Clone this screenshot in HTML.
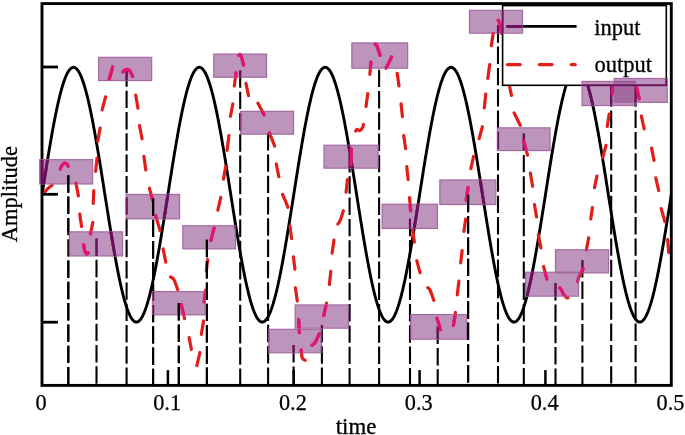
<!DOCTYPE html>
<html><head><meta charset="utf-8"><style>
html,body{margin:0;padding:0;background:#fff;}
body{width:685px;height:435px;overflow:hidden;font-family:"Liberation Serif",serif;}
svg{display:block;will-change:transform;}
</style></head><body>
<svg width="685" height="435" viewBox="0 0 685 435">
<defs>
<clipPath id="plot"><rect x="42" y="3.6" width="629.3" height="381.8"/></clipPath>
<clipPath id="boxes"><rect x="39.65" y="159.65" width="53.00" height="24.30" /><rect x="69.45" y="231.85" width="53.10" height="24.10" /><rect x="98.65" y="57.35" width="53.00" height="23.20" /><rect x="126.25" y="194.45" width="53.30" height="24.40" /><rect x="152.45" y="291.55" width="52.60" height="23.30" /><rect x="182.85" y="225.75" width="52.70" height="23.10" /><rect x="213.75" y="54.05" width="52.80" height="23.20" /><rect x="240.55" y="111.35" width="53.00" height="22.80" /><rect x="268.75" y="329.35" width="52.80" height="23.40" /><rect x="295.15" y="304.95" width="53.40" height="23.20" /><rect x="323.95" y="145.25" width="54.20" height="22.90" /><rect x="351.85" y="42.95" width="55.80" height="25.20" /><rect x="382.15" y="204.25" width="55.30" height="24.20" /><rect x="410.65" y="314.55" width="56.00" height="24.60" /><rect x="439.85" y="179.95" width="56.00" height="24.60" /><rect x="469.45" y="10.35" width="53.10" height="22.80" /><rect x="497.45" y="127.85" width="52.60" height="22.70" /><rect x="525.65" y="272.25" width="52.90" height="23.90" /><rect x="555.45" y="249.75" width="53.10" height="23.10" /><rect x="582.05" y="81.45" width="53.20" height="24.10" /><rect x="614.25" y="78.45" width="53.00" height="23.90" /></clipPath>
<clipPath id="nolegend"><path d="M0,0 H685 V435 H0 Z M502.6,5.6 V85.3 H666.3 V5.6 Z" clip-rule="evenodd"/></clipPath>
<clipPath id="vb0"><rect x="65.3" y="0.00" width="6" height="231.40"/><rect x="65.3" y="256.40" width="6" height="178.60"/></clipPath>
<clipPath id="vb3"><rect x="150.1" y="0.00" width="6" height="291.10"/><rect x="150.1" y="315.30" width="6" height="119.70"/></clipPath>
<clipPath id="vb4"><rect x="175.8" y="0.00" width="6" height="194.00"/><rect x="175.8" y="219.30" width="6" height="215.70"/></clipPath>
<clipPath id="vb5"><rect x="203.9" y="0.00" width="6" height="435.00"/></clipPath>
<clipPath id="vb14"><rect x="465.1" y="0.00" width="6" height="9.90"/><rect x="465.1" y="33.60" width="6" height="401.40"/></clipPath>
</defs>
<rect width="685" height="435" fill="#fff"/>
<g clip-path="url(#plot)"><g clip-path="url(#nolegend)">
<path d="M42.00,194.70 L42.90,188.98 L43.80,183.28 L44.70,177.60 L45.60,171.95 L46.49,166.35 L47.39,160.81 L48.29,155.33 L49.19,149.93 L50.09,144.63 L50.99,139.42 L51.89,134.33 L52.79,129.36 L53.69,124.52 L54.59,119.82 L55.48,115.27 L56.38,110.88 L57.28,106.66 L58.18,102.62 L59.08,98.76 L59.98,95.09 L60.88,91.63 L61.78,88.38 L62.68,85.33 L63.58,82.51 L64.47,79.92 L65.37,77.55 L66.27,75.42 L67.17,73.54 L68.07,71.89 L68.97,70.49 L69.87,69.35 L70.77,68.45 L71.67,67.81 L72.57,67.43 L73.47,67.30 L74.36,67.43 L75.26,67.81 L76.16,68.45 L77.06,69.35 L77.96,70.49 L78.86,71.89 L79.76,73.54 L80.66,75.42 L81.56,77.55 L82.45,79.92 L83.35,82.51 L84.25,85.33 L85.15,88.38 L86.05,91.63 L86.95,95.09 L87.85,98.76 L88.75,102.62 L89.65,106.66 L90.55,110.88 L91.44,115.27 L92.34,119.82 L93.24,124.52 L94.14,129.36 L95.04,134.33 L95.94,139.42 L96.84,144.63 L97.74,149.93 L98.64,155.33 L99.54,160.81 L100.44,166.35 L101.33,171.95 L102.23,177.60 L103.13,183.28 L104.03,188.98 L104.93,194.70 L105.83,200.42 L106.73,206.12 L107.63,211.80 L108.53,217.45 L109.42,223.05 L110.32,228.59 L111.22,234.07 L112.12,239.47 L113.02,244.77 L113.92,249.98 L114.82,255.07 L115.72,260.04 L116.62,264.88 L117.52,269.58 L118.41,274.13 L119.31,278.52 L120.21,282.74 L121.11,286.78 L122.01,290.64 L122.91,294.31 L123.81,297.77 L124.71,301.02 L125.61,304.07 L126.51,306.89 L127.40,309.48 L128.30,311.85 L129.20,313.98 L130.10,315.86 L131.00,317.51 L131.90,318.91 L132.80,320.05 L133.70,320.95 L134.60,321.59 L135.50,321.97 L136.39,322.10 L137.29,321.97 L138.19,321.59 L139.09,320.95 L139.99,320.05 L140.89,318.91 L141.79,317.51 L142.69,315.86 L143.59,313.98 L144.49,311.85 L145.38,309.48 L146.28,306.89 L147.18,304.07 L148.08,301.02 L148.98,297.77 L149.88,294.31 L150.78,290.64 L151.68,286.78 L152.58,282.74 L153.48,278.52 L154.38,274.13 L155.27,269.58 L156.17,264.88 L157.07,260.04 L157.97,255.07 L158.87,249.98 L159.77,244.77 L160.67,239.47 L161.57,234.07 L162.47,228.59 L163.37,223.05 L164.26,217.45 L165.16,211.80 L166.06,206.12 L166.96,200.42 L167.86,194.70 L168.76,188.98 L169.66,183.28 L170.56,177.60 L171.46,171.95 L172.35,166.35 L173.25,160.81 L174.15,155.33 L175.05,149.93 L175.95,144.63 L176.85,139.42 L177.75,134.33 L178.65,129.36 L179.55,124.52 L180.45,119.82 L181.34,115.27 L182.24,110.88 L183.14,106.66 L184.04,102.62 L184.94,98.76 L185.84,95.09 L186.74,91.63 L187.64,88.38 L188.54,85.33 L189.44,82.51 L190.33,79.92 L191.23,77.55 L192.13,75.42 L193.03,73.54 L193.93,71.89 L194.83,70.49 L195.73,69.35 L196.63,68.45 L197.53,67.81 L198.43,67.43 L199.32,67.30 L200.22,67.43 L201.12,67.81 L202.02,68.45 L202.92,69.35 L203.82,70.49 L204.72,71.89 L205.62,73.54 L206.52,75.42 L207.42,77.55 L208.31,79.92 L209.21,82.51 L210.11,85.33 L211.01,88.38 L211.91,91.63 L212.81,95.09 L213.71,98.76 L214.61,102.62 L215.51,106.66 L216.41,110.88 L217.30,115.27 L218.20,119.82 L219.10,124.52 L220.00,129.36 L220.90,134.33 L221.80,139.42 L222.70,144.63 L223.60,149.93 L224.50,155.33 L225.40,160.81 L226.29,166.35 L227.19,171.95 L228.09,177.60 L228.99,183.28 L229.89,188.98 L230.79,194.70 L231.69,200.42 L232.59,206.12 L233.49,211.80 L234.39,217.45 L235.28,223.05 L236.18,228.59 L237.08,234.07 L237.98,239.47 L238.88,244.77 L239.78,249.98 L240.68,255.07 L241.58,260.04 L242.48,264.88 L243.38,269.58 L244.28,274.13 L245.17,278.52 L246.07,282.74 L246.97,286.78 L247.87,290.64 L248.77,294.31 L249.67,297.77 L250.57,301.02 L251.47,304.07 L252.37,306.89 L253.26,309.48 L254.16,311.85 L255.06,313.98 L255.96,315.86 L256.86,317.51 L257.76,318.91 L258.66,320.05 L259.56,320.95 L260.46,321.59 L261.36,321.97 L262.25,322.10 L263.15,321.97 L264.05,321.59 L264.95,320.95 L265.85,320.05 L266.75,318.91 L267.65,317.51 L268.55,315.86 L269.45,313.98 L270.35,311.85 L271.25,309.48 L272.14,306.89 L273.04,304.07 L273.94,301.02 L274.84,297.77 L275.74,294.31 L276.64,290.64 L277.54,286.78 L278.44,282.74 L279.34,278.52 L280.24,274.13 L281.13,269.58 L282.03,264.88 L282.93,260.04 L283.83,255.07 L284.73,249.98 L285.63,244.77 L286.53,239.47 L287.43,234.07 L288.33,228.59 L289.23,223.05 L290.12,217.45 L291.02,211.80 L291.92,206.12 L292.82,200.42 L293.72,194.70 L294.62,188.98 L295.52,183.28 L296.42,177.60 L297.32,171.95 L298.21,166.35 L299.11,160.81 L300.01,155.33 L300.91,149.93 L301.81,144.63 L302.71,139.42 L303.61,134.33 L304.51,129.36 L305.41,124.52 L306.31,119.82 L307.20,115.27 L308.10,110.88 L309.00,106.66 L309.90,102.62 L310.80,98.76 L311.70,95.09 L312.60,91.63 L313.50,88.38 L314.40,85.33 L315.30,82.51 L316.19,79.92 L317.09,77.55 L317.99,75.42 L318.89,73.54 L319.79,71.89 L320.69,70.49 L321.59,69.35 L322.49,68.45 L323.39,67.81 L324.29,67.43 L325.19,67.30 L326.08,67.43 L326.98,67.81 L327.88,68.45 L328.78,69.35 L329.68,70.49 L330.58,71.89 L331.48,73.54 L332.38,75.42 L333.28,77.55 L334.17,79.92 L335.07,82.51 L335.97,85.33 L336.87,88.38 L337.77,91.63 L338.67,95.09 L339.57,98.76 L340.47,102.62 L341.37,106.66 L342.27,110.88 L343.16,115.27 L344.06,119.82 L344.96,124.52 L345.86,129.36 L346.76,134.33 L347.66,139.42 L348.56,144.63 L349.46,149.93 L350.36,155.33 L351.26,160.81 L352.15,166.35 L353.05,171.95 L353.95,177.60 L354.85,183.28 L355.75,188.98 L356.65,194.70 L357.55,200.42 L358.45,206.12 L359.35,211.80 L360.25,217.45 L361.14,223.05 L362.04,228.59 L362.94,234.07 L363.84,239.47 L364.74,244.77 L365.64,249.98 L366.54,255.07 L367.44,260.04 L368.34,264.88 L369.24,269.58 L370.13,274.13 L371.03,278.52 L371.93,282.74 L372.83,286.78 L373.73,290.64 L374.63,294.31 L375.53,297.77 L376.43,301.02 L377.33,304.07 L378.23,306.89 L379.12,309.48 L380.02,311.85 L380.92,313.98 L381.82,315.86 L382.72,317.51 L383.62,318.91 L384.52,320.05 L385.42,320.95 L386.32,321.59 L387.22,321.97 L388.11,322.10 L389.01,321.97 L389.91,321.59 L390.81,320.95 L391.71,320.05 L392.61,318.91 L393.51,317.51 L394.41,315.86 L395.31,313.98 L396.21,311.85 L397.10,309.48 L398.00,306.89 L398.90,304.07 L399.80,301.02 L400.70,297.77 L401.60,294.31 L402.50,290.64 L403.40,286.78 L404.30,282.74 L405.20,278.52 L406.09,274.13 L406.99,269.58 L407.89,264.88 L408.79,260.04 L409.69,255.07 L410.59,249.98 L411.49,244.77 L412.39,239.47 L413.29,234.07 L414.19,228.59 L415.08,223.05 L415.98,217.45 L416.88,211.80 L417.78,206.12 L418.68,200.42 L419.58,194.70 L420.48,188.98 L421.38,183.28 L422.28,177.60 L423.18,171.95 L424.07,166.35 L424.97,160.81 L425.87,155.33 L426.77,149.93 L427.67,144.63 L428.57,139.42 L429.47,134.33 L430.37,129.36 L431.27,124.52 L432.17,119.82 L433.06,115.27 L433.96,110.88 L434.86,106.66 L435.76,102.62 L436.66,98.76 L437.56,95.09 L438.46,91.63 L439.36,88.38 L440.26,85.33 L441.16,82.51 L442.06,79.92 L442.95,77.55 L443.85,75.42 L444.75,73.54 L445.65,71.89 L446.55,70.49 L447.45,69.35 L448.35,68.45 L449.25,67.81 L450.15,67.43 L451.05,67.30 L451.94,67.43 L452.84,67.81 L453.74,68.45 L454.64,69.35 L455.54,70.49 L456.44,71.89 L457.34,73.54 L458.24,75.42 L459.14,77.55 L460.04,79.92 L460.93,82.51 L461.83,85.33 L462.73,88.38 L463.63,91.63 L464.53,95.09 L465.43,98.76 L466.33,102.62 L467.23,106.66 L468.13,110.88 L469.02,115.27 L469.92,119.82 L470.82,124.52 L471.72,129.36 L472.62,134.33 L473.52,139.42 L474.42,144.63 L475.32,149.93 L476.22,155.33 L477.12,160.81 L478.01,166.35 L478.91,171.95 L479.81,177.60 L480.71,183.28 L481.61,188.98 L482.51,194.70 L483.41,200.42 L484.31,206.12 L485.21,211.80 L486.11,217.45 L487.00,223.05 L487.90,228.59 L488.80,234.07 L489.70,239.47 L490.60,244.77 L491.50,249.98 L492.40,255.07 L493.30,260.04 L494.20,264.88 L495.10,269.58 L496.00,274.13 L496.89,278.52 L497.79,282.74 L498.69,286.78 L499.59,290.64 L500.49,294.31 L501.39,297.77 L502.29,301.02 L503.19,304.07 L504.09,306.89 L504.99,309.48 L505.88,311.85 L506.78,313.98 L507.68,315.86 L508.58,317.51 L509.48,318.91 L510.38,320.05 L511.28,320.95 L512.18,321.59 L513.08,321.97 L513.98,322.10 L514.87,321.97 L515.77,321.59 L516.67,320.95 L517.57,320.05 L518.47,318.91 L519.37,317.51 L520.27,315.86 L521.17,313.98 L522.07,311.85 L522.96,309.48 L523.86,306.89 L524.76,304.07 L525.66,301.02 L526.56,297.77 L527.46,294.31 L528.36,290.64 L529.26,286.78 L530.16,282.74 L531.06,278.52 L531.95,274.13 L532.85,269.58 L533.75,264.88 L534.65,260.04 L535.55,255.07 L536.45,249.98 L537.35,244.77 L538.25,239.47 L539.15,234.07 L540.05,228.59 L540.94,223.05 L541.84,217.45 L542.74,211.80 L543.64,206.12 L544.54,200.42 L545.44,194.70 L546.34,188.98 L547.24,183.28 L548.14,177.60 L549.04,171.95 L549.93,166.35 L550.83,160.81 L551.73,155.33 L552.63,149.93 L553.53,144.63 L554.43,139.42 L555.33,134.33 L556.23,129.36 L557.13,124.52 L558.03,119.82 L558.92,115.27 L559.82,110.88 L560.72,106.66 L561.62,102.62 L562.52,98.76 L563.42,95.09 L564.32,91.63 L565.22,88.38 L566.12,85.33 L567.02,82.51 L567.91,79.92 L568.81,77.55 L569.71,75.42 L570.61,73.54 L571.51,71.89 L572.41,70.49 L573.31,69.35 L574.21,68.45 L575.11,67.81 L576.01,67.43 L576.90,67.30 L577.80,67.43 L578.70,67.81 L579.60,68.45 L580.50,69.35 L581.40,70.49 L582.30,71.89 L583.20,73.54 L584.10,75.42 L585.00,77.55 L585.89,79.92 L586.79,82.51 L587.69,85.33 L588.59,88.38 L589.49,91.63 L590.39,95.09 L591.29,98.76 L592.19,102.62 L593.09,106.66 L593.99,110.88 L594.88,115.27 L595.78,119.82 L596.68,124.52 L597.58,129.36 L598.48,134.33 L599.38,139.42 L600.28,144.63 L601.18,149.93 L602.08,155.33 L602.98,160.81 L603.88,166.35 L604.77,171.95 L605.67,177.60 L606.57,183.28 L607.47,188.98 L608.37,194.70 L609.27,200.42 L610.17,206.12 L611.07,211.80 L611.97,217.45 L612.87,223.05 L613.76,228.59 L614.66,234.07 L615.56,239.47 L616.46,244.77 L617.36,249.98 L618.26,255.07 L619.16,260.04 L620.06,264.88 L620.96,269.58 L621.85,274.13 L622.75,278.52 L623.65,282.74 L624.55,286.78 L625.45,290.64 L626.35,294.31 L627.25,297.77 L628.15,301.02 L629.05,304.07 L629.95,306.89 L630.84,309.48 L631.74,311.85 L632.64,313.98 L633.54,315.86 L634.44,317.51 L635.34,318.91 L636.24,320.05 L637.14,320.95 L638.04,321.59 L638.94,321.97 L639.83,322.10 L640.73,321.97 L641.63,321.59 L642.53,320.95 L643.43,320.05 L644.33,318.91 L645.23,317.51 L646.13,315.86 L647.03,313.98 L647.93,311.85 L648.82,309.48 L649.72,306.89 L650.62,304.07 L651.52,301.02 L652.42,297.77 L653.32,294.31 L654.22,290.64 L655.12,286.78 L656.02,282.74 L656.92,278.52 L657.81,274.13 L658.71,269.58 L659.61,264.88 L660.51,260.04 L661.41,255.07 L662.31,249.98 L663.21,244.77 L664.11,239.47 L665.01,234.07 L665.91,228.59 L666.80,223.05 L667.70,217.45 L668.60,211.80 L669.50,206.12 L670.40,200.42 L671.30,194.70" fill="none" stroke="#000" stroke-width="2.9" stroke-linejoin="round"/>
<line x1="68.3" y1="175.3" x2="68.3" y2="386.4" stroke="#000" stroke-width="2.1" stroke-dasharray="17.4 3.9"/>
<line x1="96.5" y1="238.5" x2="96.5" y2="386.4" stroke="#000" stroke-width="2.1" stroke-dasharray="17.4 3.9"/>
<line x1="126.6" y1="69.4" x2="126.6" y2="386.4" stroke="#000" stroke-width="2.1" stroke-dasharray="17.4 3.9"/>
<line x1="153.1" y1="198.4" x2="153.1" y2="386.4" stroke="#000" stroke-width="2.1" stroke-dasharray="17.4 3.9"/>
<line x1="178.8" y1="303.2" x2="178.8" y2="386.4" stroke="#000" stroke-width="2.1" stroke-dasharray="17.4 3.9"/>
<line x1="206.9" y1="239.8" x2="206.9" y2="386.4" stroke="#000" stroke-width="2.1" stroke-dasharray="17.4 3.9"/>
<line x1="240.2" y1="70.4" x2="240.2" y2="386.4" stroke="#000" stroke-width="2.1" stroke-dasharray="17.4 3.9"/>
<line x1="268.1" y1="133.1" x2="268.1" y2="386.4" stroke="#000" stroke-width="2.1" stroke-dasharray="17.4 3.9"/>
<line x1="293.6" y1="345.1" x2="293.6" y2="386.4" stroke="#000" stroke-width="2.1" stroke-dasharray="17.4 3.9"/>
<line x1="321.9" y1="325.0" x2="321.9" y2="386.4" stroke="#000" stroke-width="2.1" stroke-dasharray="17.4 3.9"/>
<line x1="349.6" y1="155.0" x2="349.6" y2="386.4" stroke="#000" stroke-width="2.1" stroke-dasharray="17.4 3.9"/>
<line x1="379.1" y1="69.7" x2="379.1" y2="386.4" stroke="#000" stroke-width="2.1" stroke-dasharray="17.4 3.9"/>
<line x1="410.0" y1="218.8" x2="410.0" y2="386.4" stroke="#000" stroke-width="2.1" stroke-dasharray="17.4 3.9"/>
<line x1="437.7" y1="326.7" x2="437.7" y2="386.4" stroke="#000" stroke-width="2.1" stroke-dasharray="17.4 3.9"/>
<line x1="468.1" y1="194.8" x2="468.1" y2="386.4" stroke="#000" stroke-width="2.1" stroke-dasharray="17.4 3.9"/>
<line x1="498.0" y1="25.3" x2="498.0" y2="386.4" stroke="#000" stroke-width="2.1" stroke-dasharray="17.4 3.9"/>
<line x1="523.8" y1="133.6" x2="523.8" y2="386.4" stroke="#000" stroke-width="2.1" stroke-dasharray="17.4 3.9"/>
<line x1="555.5" y1="283.2" x2="555.5" y2="386.4" stroke="#000" stroke-width="2.1" stroke-dasharray="17.4 3.9"/>
<line x1="582.4" y1="260.2" x2="582.4" y2="386.4" stroke="#000" stroke-width="2.1" stroke-dasharray="17.4 3.9"/>
<line x1="611.2" y1="89.3" x2="611.2" y2="386.4" stroke="#000" stroke-width="2.1" stroke-dasharray="17.4 3.9"/>
<line x1="635.6" y1="89.3" x2="635.6" y2="386.4" stroke="#000" stroke-width="2.1" stroke-dasharray="17.4 3.9"/>
<line x1="611.2" y1="84.0" x2="611.2" y2="89.8" stroke="#000" stroke-width="2.1"/>
<line x1="635.6" y1="84.0" x2="635.6" y2="89.8" stroke="#000" stroke-width="2.1"/>
</g></g>
<g clip-path="url(#plot)"><g clip-path="url(#nolegend)">
<path d="M44.17,192.58 C44.81,191.87 46.67,189.53 48.00,188.30 C49.33,187.07 51.45,185.73 52.14,185.22" fill="none" stroke="#e21d1a" stroke-width="3.2" stroke-linecap="round" stroke-linejoin="round"/>
<path d="M60.30,168.97 C60.58,168.37 61.30,166.39 62.00,165.40 C62.70,164.41 63.67,163.20 64.50,163.00 C65.33,162.80 66.38,163.67 67.00,164.20 C67.62,164.73 68.03,165.87 68.23,166.20" fill="none" stroke="#e21d1a" stroke-width="3.2" stroke-linecap="round" stroke-linejoin="round"/>
<path d="M76.03,183.29 L78.37,195.91" fill="none" stroke="#e21d1a" stroke-width="3.2" stroke-linecap="round" stroke-linejoin="round"/>
<path d="M79.71,214.19 L81.59,226.51" fill="none" stroke="#e21d1a" stroke-width="3.2" stroke-linecap="round" stroke-linejoin="round"/>
<path d="M83.55,244.88 C83.75,245.87 84.29,249.31 84.80,250.80 C85.31,252.29 86.03,253.47 86.60,253.80 C87.17,254.13 87.94,252.95 88.21,252.78" fill="none" stroke="#e21d1a" stroke-width="3.2" stroke-linecap="round" stroke-linejoin="round"/>
<path d="M90.44,233.81 L92.86,222.29" fill="none" stroke="#e21d1a" stroke-width="3.2" stroke-linecap="round" stroke-linejoin="round"/>
<path d="M93.23,203.30 L93.77,190.70" fill="none" stroke="#e21d1a" stroke-width="3.2" stroke-linecap="round" stroke-linejoin="round"/>
<path d="M95.67,171.30 L97.03,158.20" fill="none" stroke="#e21d1a" stroke-width="3.2" stroke-linecap="round" stroke-linejoin="round"/>
<path d="M97.73,141.21 L100.17,128.09" fill="none" stroke="#e21d1a" stroke-width="3.2" stroke-linecap="round" stroke-linejoin="round"/>
<path d="M102.08,109.92 L105.62,96.78" fill="none" stroke="#e21d1a" stroke-width="3.2" stroke-linecap="round" stroke-linejoin="round"/>
<path d="M109.19,79.33 L112.61,66.97" fill="none" stroke="#e21d1a" stroke-width="3.2" stroke-linecap="round" stroke-linejoin="round"/>
<path d="M122.99,71.81 C123.26,71.54 123.93,70.60 124.60,70.20 C125.27,69.80 126.17,69.33 127.00,69.40 C127.83,69.47 128.65,69.44 129.60,70.60 C130.55,71.76 132.16,75.42 132.67,76.38" fill="none" stroke="#e21d1a" stroke-width="3.2" stroke-linecap="round" stroke-linejoin="round"/>
<path d="M135.72,95.19 L137.98,108.21" fill="none" stroke="#e21d1a" stroke-width="3.2" stroke-linecap="round" stroke-linejoin="round"/>
<path d="M139.53,125.69 L142.07,138.81" fill="none" stroke="#e21d1a" stroke-width="3.2" stroke-linecap="round" stroke-linejoin="round"/>
<path d="M143.90,156.29 L145.80,169.91" fill="none" stroke="#e21d1a" stroke-width="3.2" stroke-linecap="round" stroke-linejoin="round"/>
<path d="M149.38,188.18 L152.62,200.32" fill="none" stroke="#e21d1a" stroke-width="3.2" stroke-linecap="round" stroke-linejoin="round"/>
<path d="M155.70,215.67 L160.10,230.73" fill="none" stroke="#e21d1a" stroke-width="3.2" stroke-linecap="round" stroke-linejoin="round"/>
<path d="M163.14,248.99 L165.76,262.11" fill="none" stroke="#e21d1a" stroke-width="3.2" stroke-linecap="round" stroke-linejoin="round"/>
<path d="M170.54,276.95 C171.12,277.42 172.80,277.68 174.00,279.80 C175.20,281.92 177.13,288.00 177.75,289.65" fill="none" stroke="#e21d1a" stroke-width="3.2" stroke-linecap="round" stroke-linejoin="round"/>
<path d="M181.16,304.48 L184.54,318.62" fill="none" stroke="#e21d1a" stroke-width="3.2" stroke-linecap="round" stroke-linejoin="round"/>
<path d="M189.13,337.59 L191.37,349.41" fill="none" stroke="#e21d1a" stroke-width="3.2" stroke-linecap="round" stroke-linejoin="round"/>
<path d="M196.86,365.52 L199.94,352.48" fill="none" stroke="#e21d1a" stroke-width="3.2" stroke-linecap="round" stroke-linejoin="round"/>
<path d="M201.32,334.31 L203.58,320.99" fill="none" stroke="#e21d1a" stroke-width="3.2" stroke-linecap="round" stroke-linejoin="round"/>
<path d="M204.19,302.01 L205.71,289.99" fill="none" stroke="#e21d1a" stroke-width="3.2" stroke-linecap="round" stroke-linejoin="round"/>
<path d="M206.29,271.01 L207.71,259.49" fill="none" stroke="#e21d1a" stroke-width="3.2" stroke-linecap="round" stroke-linejoin="round"/>
<path d="M210.87,240.42 L214.03,228.08" fill="none" stroke="#e21d1a" stroke-width="3.2" stroke-linecap="round" stroke-linejoin="round"/>
<path d="M217.85,210.22 L220.75,197.38" fill="none" stroke="#e21d1a" stroke-width="3.2" stroke-linecap="round" stroke-linejoin="round"/>
<path d="M223.42,179.11 L225.68,166.49" fill="none" stroke="#e21d1a" stroke-width="3.2" stroke-linecap="round" stroke-linejoin="round"/>
<path d="M227.09,150.31 L228.91,135.49" fill="none" stroke="#e21d1a" stroke-width="3.2" stroke-linecap="round" stroke-linejoin="round"/>
<path d="M230.44,116.31 L232.86,103.99" fill="none" stroke="#e21d1a" stroke-width="3.2" stroke-linecap="round" stroke-linejoin="round"/>
<path d="M234.29,86.01 L236.01,72.89" fill="none" stroke="#e21d1a" stroke-width="3.2" stroke-linecap="round" stroke-linejoin="round"/>
<path d="M238.97,55.48 C239.15,55.26 239.64,53.83 240.10,54.20 C240.56,54.57 241.11,55.88 241.70,57.70 C242.29,59.52 243.30,63.89 243.62,65.12" fill="none" stroke="#e21d1a" stroke-width="3.2" stroke-linecap="round" stroke-linejoin="round"/>
<path d="M245.94,83.38 L248.56,95.72" fill="none" stroke="#e21d1a" stroke-width="3.2" stroke-linecap="round" stroke-linejoin="round"/>
<path d="M257.83,103.12 L264.07,114.78" fill="none" stroke="#e21d1a" stroke-width="3.2" stroke-linecap="round" stroke-linejoin="round"/>
<path d="M269.46,132.95 L274.64,146.15" fill="none" stroke="#e21d1a" stroke-width="3.2" stroke-linecap="round" stroke-linejoin="round"/>
<path d="M276.24,163.89 L278.86,176.71" fill="none" stroke="#e21d1a" stroke-width="3.2" stroke-linecap="round" stroke-linejoin="round"/>
<path d="M282.49,194.44 C282.91,195.36 284.09,197.85 285.00,200.00 C285.91,202.15 287.45,206.13 287.94,207.35" fill="none" stroke="#e21d1a" stroke-width="3.2" stroke-linecap="round" stroke-linejoin="round"/>
<path d="M289.99,226.09 L291.61,238.61" fill="none" stroke="#e21d1a" stroke-width="3.2" stroke-linecap="round" stroke-linejoin="round"/>
<path d="M293.39,256.89 L294.91,269.21" fill="none" stroke="#e21d1a" stroke-width="3.2" stroke-linecap="round" stroke-linejoin="round"/>
<path d="M295.40,287.89 L297.30,301.01" fill="none" stroke="#e21d1a" stroke-width="3.2" stroke-linecap="round" stroke-linejoin="round"/>
<path d="M298.64,319.30 L299.46,332.70" fill="none" stroke="#e21d1a" stroke-width="3.2" stroke-linecap="round" stroke-linejoin="round"/>
<path d="M301.19,349.99 C301.36,351.31 301.54,356.17 302.20,357.90 C302.86,359.63 304.67,359.94 305.16,360.35" fill="none" stroke="#e21d1a" stroke-width="3.2" stroke-linecap="round" stroke-linejoin="round"/>
<path d="M311.89,345.41 C312.50,344.80 314.28,343.73 315.50,341.80 C316.72,339.87 318.59,335.16 319.20,333.83" fill="none" stroke="#e21d1a" stroke-width="3.2" stroke-linecap="round" stroke-linejoin="round"/>
<path d="M323.66,315.52 L326.54,303.18" fill="none" stroke="#e21d1a" stroke-width="3.2" stroke-linecap="round" stroke-linejoin="round"/>
<path d="M329.38,284.50 L330.82,271.40" fill="none" stroke="#e21d1a" stroke-width="3.2" stroke-linecap="round" stroke-linejoin="round"/>
<path d="M332.10,253.11 L334.00,239.99" fill="none" stroke="#e21d1a" stroke-width="3.2" stroke-linecap="round" stroke-linejoin="round"/>
<path d="M337.79,224.02 C338.19,223.41 339.27,222.61 340.20,220.40 C341.13,218.19 342.85,212.37 343.38,210.76" fill="none" stroke="#e21d1a" stroke-width="3.2" stroke-linecap="round" stroke-linejoin="round"/>
<path d="M346.08,192.10 L347.42,179.70" fill="none" stroke="#e21d1a" stroke-width="3.2" stroke-linecap="round" stroke-linejoin="round"/>
<path d="M350.92,164.80 L351.48,149.00" fill="none" stroke="#e21d1a" stroke-width="3.2" stroke-linecap="round" stroke-linejoin="round"/>
<path d="M355.62,131.04 C355.83,130.75 356.22,129.36 356.90,129.30 C357.58,129.24 358.78,130.93 359.70,130.70 C360.62,130.47 361.75,128.94 362.40,127.90 C363.05,126.86 363.38,125.04 363.57,124.46" fill="none" stroke="#e21d1a" stroke-width="3.2" stroke-linecap="round" stroke-linejoin="round"/>
<path d="M366.00,106.51 L367.80,93.49" fill="none" stroke="#e21d1a" stroke-width="3.2" stroke-linecap="round" stroke-linejoin="round"/>
<path d="M369.86,74.30 L370.94,62.10" fill="none" stroke="#e21d1a" stroke-width="3.2" stroke-linecap="round" stroke-linejoin="round"/>
<path d="M374.99,44.11 C375.15,44.09 375.50,43.47 375.90,44.00 C376.30,44.53 376.70,45.39 377.40,47.30 C378.10,49.21 379.63,54.08 380.08,55.44" fill="none" stroke="#e21d1a" stroke-width="3.2" stroke-linecap="round" stroke-linejoin="round"/>
<path d="M386.01,68.37 L391.59,57.03" fill="none" stroke="#e21d1a" stroke-width="3.2" stroke-linecap="round" stroke-linejoin="round"/>
<path d="M397.20,73.29 L399.00,85.91" fill="none" stroke="#e21d1a" stroke-width="3.2" stroke-linecap="round" stroke-linejoin="round"/>
<path d="M401.07,103.80 L402.43,116.70" fill="none" stroke="#e21d1a" stroke-width="3.2" stroke-linecap="round" stroke-linejoin="round"/>
<path d="M403.70,135.49 L405.60,148.61" fill="none" stroke="#e21d1a" stroke-width="3.2" stroke-linecap="round" stroke-linejoin="round"/>
<path d="M406.77,166.60 L408.13,179.70" fill="none" stroke="#e21d1a" stroke-width="3.2" stroke-linecap="round" stroke-linejoin="round"/>
<path d="M409.56,197.50 L410.64,210.80" fill="none" stroke="#e21d1a" stroke-width="3.2" stroke-linecap="round" stroke-linejoin="round"/>
<path d="M412.51,229.69 L414.39,242.11" fill="none" stroke="#e21d1a" stroke-width="3.2" stroke-linecap="round" stroke-linejoin="round"/>
<path d="M416.78,260.68 L420.02,272.62" fill="none" stroke="#e21d1a" stroke-width="3.2" stroke-linecap="round" stroke-linejoin="round"/>
<path d="M427.69,287.69 C428.08,288.08 428.97,287.89 430.00,290.00 C431.03,292.11 433.21,298.62 433.86,300.34" fill="none" stroke="#e21d1a" stroke-width="3.2" stroke-linecap="round" stroke-linejoin="round"/>
<path d="M437.00,318.17 L440.50,329.63" fill="none" stroke="#e21d1a" stroke-width="3.2" stroke-linecap="round" stroke-linejoin="round"/>
<path d="M453.41,325.31 L455.49,312.49" fill="none" stroke="#e21d1a" stroke-width="3.2" stroke-linecap="round" stroke-linejoin="round"/>
<path d="M457.28,294.80 L458.92,281.00" fill="none" stroke="#e21d1a" stroke-width="3.2" stroke-linecap="round" stroke-linejoin="round"/>
<path d="M460.68,262.90 L462.12,250.60" fill="none" stroke="#e21d1a" stroke-width="3.2" stroke-linecap="round" stroke-linejoin="round"/>
<path d="M463.90,231.51 L465.70,219.19" fill="none" stroke="#e21d1a" stroke-width="3.2" stroke-linecap="round" stroke-linejoin="round"/>
<path d="M466.20,200.31 L468.00,187.69" fill="none" stroke="#e21d1a" stroke-width="3.2" stroke-linecap="round" stroke-linejoin="round"/>
<path d="M470.85,168.62 L473.55,156.48" fill="none" stroke="#e21d1a" stroke-width="3.2" stroke-linecap="round" stroke-linejoin="round"/>
<path d="M479.09,138.73 L482.41,126.67" fill="none" stroke="#e21d1a" stroke-width="3.2" stroke-linecap="round" stroke-linejoin="round"/>
<path d="M484.28,107.90 L485.82,94.00" fill="none" stroke="#e21d1a" stroke-width="3.2" stroke-linecap="round" stroke-linejoin="round"/>
<path d="M487.80,78.41 L489.70,64.49" fill="none" stroke="#e21d1a" stroke-width="3.2" stroke-linecap="round" stroke-linejoin="round"/>
<path d="M491.31,45.71 L493.19,33.59" fill="none" stroke="#e21d1a" stroke-width="3.2" stroke-linecap="round" stroke-linejoin="round"/>
<path d="M498.17,20.15 C498.56,21.07 499.96,23.51 500.50,25.70 C501.04,27.89 501.26,32.04 501.42,33.31" fill="none" stroke="#e21d1a" stroke-width="3.2" stroke-linecap="round" stroke-linejoin="round"/>
<path d="M509.74,87.09 L511.46,95.41" fill="none" stroke="#e21d1a" stroke-width="3.2" stroke-linecap="round" stroke-linejoin="round"/>
<path d="M514.01,112.83 L520.29,125.27" fill="none" stroke="#e21d1a" stroke-width="3.2" stroke-linecap="round" stroke-linejoin="round"/>
<path d="M523.78,141.18 L527.52,155.12" fill="none" stroke="#e21d1a" stroke-width="3.2" stroke-linecap="round" stroke-linejoin="round"/>
<path d="M530.41,173.19 L532.59,186.31" fill="none" stroke="#e21d1a" stroke-width="3.2" stroke-linecap="round" stroke-linejoin="round"/>
<path d="M534.42,204.59 L536.58,216.91" fill="none" stroke="#e21d1a" stroke-width="3.2" stroke-linecap="round" stroke-linejoin="round"/>
<path d="M538.34,234.89 L540.96,247.91" fill="none" stroke="#e21d1a" stroke-width="3.2" stroke-linecap="round" stroke-linejoin="round"/>
<path d="M543.58,266.48 L546.82,278.92" fill="none" stroke="#e21d1a" stroke-width="3.2" stroke-linecap="round" stroke-linejoin="round"/>
<path d="M559.83,287.85 C560.09,288.20 560.79,288.86 561.40,289.90 C562.01,290.94 562.63,292.80 563.50,294.10 C564.37,295.40 565.85,297.10 566.60,297.70 C567.35,298.30 567.77,297.70 568.00,297.70" fill="none" stroke="#e21d1a" stroke-width="3.2" stroke-linecap="round" stroke-linejoin="round"/>
<path d="M577.69,281.53 C577.91,280.77 578.08,279.15 579.00,277.00 C579.92,274.85 582.49,270.02 583.19,268.63" fill="none" stroke="#e21d1a" stroke-width="3.2" stroke-linecap="round" stroke-linejoin="round"/>
<path d="M586.43,249.61 L588.67,237.89" fill="none" stroke="#e21d1a" stroke-width="3.2" stroke-linecap="round" stroke-linejoin="round"/>
<path d="M590.80,219.01 L592.40,207.49" fill="none" stroke="#e21d1a" stroke-width="3.2" stroke-linecap="round" stroke-linejoin="round"/>
<path d="M594.45,187.72 L596.95,176.18" fill="none" stroke="#e21d1a" stroke-width="3.2" stroke-linecap="round" stroke-linejoin="round"/>
<path d="M602.68,157.82 L606.02,145.38" fill="none" stroke="#e21d1a" stroke-width="3.2" stroke-linecap="round" stroke-linejoin="round"/>
<path d="M607.21,126.51 L609.19,114.09" fill="none" stroke="#e21d1a" stroke-width="3.2" stroke-linecap="round" stroke-linejoin="round"/>
<path d="M612.25,93.80 L612.75,86.70" fill="none" stroke="#e21d1a" stroke-width="3.2" stroke-linecap="round" stroke-linejoin="round"/>
<path d="M636.46,86.68 L639.34,98.92" fill="none" stroke="#e21d1a" stroke-width="3.2" stroke-linecap="round" stroke-linejoin="round"/>
<path d="M641.35,115.98 L644.15,128.82" fill="none" stroke="#e21d1a" stroke-width="3.2" stroke-linecap="round" stroke-linejoin="round"/>
<path d="M651.54,148.09 L654.06,160.41" fill="none" stroke="#e21d1a" stroke-width="3.2" stroke-linecap="round" stroke-linejoin="round"/>
<path d="M655.76,177.88 L658.74,190.72" fill="none" stroke="#e21d1a" stroke-width="3.2" stroke-linecap="round" stroke-linejoin="round"/>
<path d="M661.19,208.57 L664.91,221.73" fill="none" stroke="#e21d1a" stroke-width="3.2" stroke-linecap="round" stroke-linejoin="round"/>
<path d="M667.66,239.60 L668.74,252.60" fill="none" stroke="#e21d1a" stroke-width="3.2" stroke-linecap="round" stroke-linejoin="round"/>
</g></g>
<g stroke="#000" fill="none">
<rect x="42.0" y="3.6" width="629.3" height="381.8" stroke-width="2.9"/>
<line x1="42.0" y1="67.0" x2="58.0" y2="67.0" stroke-width="2.8"/>
<line x1="42.0" y1="194.3" x2="58.0" y2="194.3" stroke-width="2.8"/>
<line x1="42.0" y1="322.2" x2="58.0" y2="322.2" stroke-width="2.8"/>
<line x1="167.9" y1="385.4" x2="167.9" y2="370.09999999999997" stroke-width="2.5"/>
<line x1="293.7" y1="385.4" x2="293.7" y2="370.09999999999997" stroke-width="2.5"/>
<line x1="419.6" y1="385.4" x2="419.6" y2="370.09999999999997" stroke-width="2.5"/>
<line x1="545.4" y1="385.4" x2="545.4" y2="370.09999999999997" stroke-width="2.5"/>
</g>
<rect x="502.6" y="5.6" width="163.7" height="79.7" fill="#fff" stroke="#000" stroke-width="1.6"/>
<line x1="506.4" y1="26.4" x2="576.6" y2="26.4" stroke="#000" stroke-width="2.9"/>
<line x1="507.5" y1="64.7" x2="575.2" y2="64.7" stroke="#e21d1a" stroke-width="3.3" stroke-linecap="round" stroke-dasharray="12.6 19.3"/>
<text x="594.3" y="35" font-family="Liberation Serif" font-size="22.5" fill="#000" stroke="#000" stroke-width="0.3">input</text>
<text x="594.6" y="72" font-family="Liberation Serif" font-size="22.5" fill="#000" stroke="#000" stroke-width="0.3">output</text>
<rect x="39.65" y="159.65" width="53.00" height="24.30" fill="#914d8e" fill-opacity="0.6"/>
<rect x="39.65" y="159.65" width="53.00" height="24.30" fill="none" stroke="#a46aa0" stroke-width="1.2"/>
<rect x="69.45" y="231.85" width="53.10" height="24.10" fill="#914d8e" fill-opacity="0.6"/>
<rect x="69.45" y="231.85" width="53.10" height="24.10" fill="none" stroke="#a46aa0" stroke-width="1.2"/>
<rect x="98.65" y="57.35" width="53.00" height="23.20" fill="#914d8e" fill-opacity="0.6"/>
<rect x="98.65" y="57.35" width="53.00" height="23.20" fill="none" stroke="#a46aa0" stroke-width="1.2"/>
<rect x="126.25" y="194.45" width="53.30" height="24.40" fill="#914d8e" fill-opacity="0.6"/>
<rect x="126.25" y="194.45" width="53.30" height="24.40" fill="none" stroke="#a46aa0" stroke-width="1.2"/>
<rect x="152.45" y="291.55" width="52.60" height="23.30" fill="#914d8e" fill-opacity="0.6"/>
<rect x="152.45" y="291.55" width="52.60" height="23.30" fill="none" stroke="#a46aa0" stroke-width="1.2"/>
<rect x="182.85" y="225.75" width="52.70" height="23.10" fill="#914d8e" fill-opacity="0.6"/>
<rect x="182.85" y="225.75" width="52.70" height="23.10" fill="none" stroke="#a46aa0" stroke-width="1.2"/>
<rect x="213.75" y="54.05" width="52.80" height="23.20" fill="#914d8e" fill-opacity="0.6"/>
<rect x="213.75" y="54.05" width="52.80" height="23.20" fill="none" stroke="#a46aa0" stroke-width="1.2"/>
<rect x="240.55" y="111.35" width="53.00" height="22.80" fill="#914d8e" fill-opacity="0.6"/>
<rect x="240.55" y="111.35" width="53.00" height="22.80" fill="none" stroke="#a46aa0" stroke-width="1.2"/>
<rect x="268.75" y="329.35" width="52.80" height="23.40" fill="#914d8e" fill-opacity="0.6"/>
<rect x="268.75" y="329.35" width="52.80" height="23.40" fill="none" stroke="#a46aa0" stroke-width="1.2"/>
<rect x="295.15" y="304.95" width="53.40" height="23.20" fill="#914d8e" fill-opacity="0.6"/>
<rect x="295.15" y="304.95" width="53.40" height="23.20" fill="none" stroke="#a46aa0" stroke-width="1.2"/>
<rect x="323.95" y="145.25" width="54.20" height="22.90" fill="#914d8e" fill-opacity="0.6"/>
<rect x="323.95" y="145.25" width="54.20" height="22.90" fill="none" stroke="#a46aa0" stroke-width="1.2"/>
<rect x="351.85" y="42.95" width="55.80" height="25.20" fill="#914d8e" fill-opacity="0.6"/>
<rect x="351.85" y="42.95" width="55.80" height="25.20" fill="none" stroke="#a46aa0" stroke-width="1.2"/>
<rect x="382.15" y="204.25" width="55.30" height="24.20" fill="#914d8e" fill-opacity="0.6"/>
<rect x="382.15" y="204.25" width="55.30" height="24.20" fill="none" stroke="#a46aa0" stroke-width="1.2"/>
<rect x="410.65" y="314.55" width="56.00" height="24.60" fill="#914d8e" fill-opacity="0.6"/>
<rect x="410.65" y="314.55" width="56.00" height="24.60" fill="none" stroke="#a46aa0" stroke-width="1.2"/>
<rect x="439.85" y="179.95" width="56.00" height="24.60" fill="#914d8e" fill-opacity="0.6"/>
<rect x="439.85" y="179.95" width="56.00" height="24.60" fill="none" stroke="#a46aa0" stroke-width="1.2"/>
<rect x="469.45" y="10.35" width="53.10" height="22.80" fill="#914d8e" fill-opacity="0.6"/>
<rect x="469.45" y="10.35" width="53.10" height="22.80" fill="none" stroke="#a46aa0" stroke-width="1.2"/>
<rect x="497.45" y="127.85" width="52.60" height="22.70" fill="#914d8e" fill-opacity="0.6"/>
<rect x="497.45" y="127.85" width="52.60" height="22.70" fill="none" stroke="#a46aa0" stroke-width="1.2"/>
<rect x="525.65" y="272.25" width="52.90" height="23.90" fill="#914d8e" fill-opacity="0.6"/>
<rect x="525.65" y="272.25" width="52.90" height="23.90" fill="none" stroke="#a46aa0" stroke-width="1.2"/>
<rect x="555.45" y="249.75" width="53.10" height="23.10" fill="#914d8e" fill-opacity="0.6"/>
<rect x="555.45" y="249.75" width="53.10" height="23.10" fill="none" stroke="#a46aa0" stroke-width="1.2"/>
<rect x="582.05" y="81.45" width="53.20" height="24.10" fill="#914d8e" fill-opacity="0.6"/>
<rect x="582.05" y="81.45" width="53.20" height="24.10" fill="none" stroke="#a46aa0" stroke-width="1.2"/>
<rect x="614.25" y="78.45" width="53.00" height="23.90" fill="#914d8e" fill-opacity="0.6"/>
<rect x="614.25" y="78.45" width="53.00" height="23.90" fill="none" stroke="#a46aa0" stroke-width="1.2"/>
<g clip-path="url(#boxes)">
<g clip-path="url(#plot)"><g clip-path="url(#nolegend)">
<path d="M42.00,194.70 L42.90,188.98 L43.80,183.28 L44.70,177.60 L45.60,171.95 L46.49,166.35 L47.39,160.81 L48.29,155.33 L49.19,149.93 L50.09,144.63 L50.99,139.42 L51.89,134.33 L52.79,129.36 L53.69,124.52 L54.59,119.82 L55.48,115.27 L56.38,110.88 L57.28,106.66 L58.18,102.62 L59.08,98.76 L59.98,95.09 L60.88,91.63 L61.78,88.38 L62.68,85.33 L63.58,82.51 L64.47,79.92 L65.37,77.55 L66.27,75.42 L67.17,73.54 L68.07,71.89 L68.97,70.49 L69.87,69.35 L70.77,68.45 L71.67,67.81 L72.57,67.43 L73.47,67.30 L74.36,67.43 L75.26,67.81 L76.16,68.45 L77.06,69.35 L77.96,70.49 L78.86,71.89 L79.76,73.54 L80.66,75.42 L81.56,77.55 L82.45,79.92 L83.35,82.51 L84.25,85.33 L85.15,88.38 L86.05,91.63 L86.95,95.09 L87.85,98.76 L88.75,102.62 L89.65,106.66 L90.55,110.88 L91.44,115.27 L92.34,119.82 L93.24,124.52 L94.14,129.36 L95.04,134.33 L95.94,139.42 L96.84,144.63 L97.74,149.93 L98.64,155.33 L99.54,160.81 L100.44,166.35 L101.33,171.95 L102.23,177.60 L103.13,183.28 L104.03,188.98 L104.93,194.70 L105.83,200.42 L106.73,206.12 L107.63,211.80 L108.53,217.45 L109.42,223.05 L110.32,228.59 L111.22,234.07 L112.12,239.47 L113.02,244.77 L113.92,249.98 L114.82,255.07 L115.72,260.04 L116.62,264.88 L117.52,269.58 L118.41,274.13 L119.31,278.52 L120.21,282.74 L121.11,286.78 L122.01,290.64 L122.91,294.31 L123.81,297.77 L124.71,301.02 L125.61,304.07 L126.51,306.89 L127.40,309.48 L128.30,311.85 L129.20,313.98 L130.10,315.86 L131.00,317.51 L131.90,318.91 L132.80,320.05 L133.70,320.95 L134.60,321.59 L135.50,321.97 L136.39,322.10 L137.29,321.97 L138.19,321.59 L139.09,320.95 L139.99,320.05 L140.89,318.91 L141.79,317.51 L142.69,315.86 L143.59,313.98 L144.49,311.85 L145.38,309.48 L146.28,306.89 L147.18,304.07 L148.08,301.02 L148.98,297.77 L149.88,294.31 L150.78,290.64 L151.68,286.78 L152.58,282.74 L153.48,278.52 L154.38,274.13 L155.27,269.58 L156.17,264.88 L157.07,260.04 L157.97,255.07 L158.87,249.98 L159.77,244.77 L160.67,239.47 L161.57,234.07 L162.47,228.59 L163.37,223.05 L164.26,217.45 L165.16,211.80 L166.06,206.12 L166.96,200.42 L167.86,194.70 L168.76,188.98 L169.66,183.28 L170.56,177.60 L171.46,171.95 L172.35,166.35 L173.25,160.81 L174.15,155.33 L175.05,149.93 L175.95,144.63 L176.85,139.42 L177.75,134.33 L178.65,129.36 L179.55,124.52 L180.45,119.82 L181.34,115.27 L182.24,110.88 L183.14,106.66 L184.04,102.62 L184.94,98.76 L185.84,95.09 L186.74,91.63 L187.64,88.38 L188.54,85.33 L189.44,82.51 L190.33,79.92 L191.23,77.55 L192.13,75.42 L193.03,73.54 L193.93,71.89 L194.83,70.49 L195.73,69.35 L196.63,68.45 L197.53,67.81 L198.43,67.43 L199.32,67.30 L200.22,67.43 L201.12,67.81 L202.02,68.45 L202.92,69.35 L203.82,70.49 L204.72,71.89 L205.62,73.54 L206.52,75.42 L207.42,77.55 L208.31,79.92 L209.21,82.51 L210.11,85.33 L211.01,88.38 L211.91,91.63 L212.81,95.09 L213.71,98.76 L214.61,102.62 L215.51,106.66 L216.41,110.88 L217.30,115.27 L218.20,119.82 L219.10,124.52 L220.00,129.36 L220.90,134.33 L221.80,139.42 L222.70,144.63 L223.60,149.93 L224.50,155.33 L225.40,160.81 L226.29,166.35 L227.19,171.95 L228.09,177.60 L228.99,183.28 L229.89,188.98 L230.79,194.70 L231.69,200.42 L232.59,206.12 L233.49,211.80 L234.39,217.45 L235.28,223.05 L236.18,228.59 L237.08,234.07 L237.98,239.47 L238.88,244.77 L239.78,249.98 L240.68,255.07 L241.58,260.04 L242.48,264.88 L243.38,269.58 L244.28,274.13 L245.17,278.52 L246.07,282.74 L246.97,286.78 L247.87,290.64 L248.77,294.31 L249.67,297.77 L250.57,301.02 L251.47,304.07 L252.37,306.89 L253.26,309.48 L254.16,311.85 L255.06,313.98 L255.96,315.86 L256.86,317.51 L257.76,318.91 L258.66,320.05 L259.56,320.95 L260.46,321.59 L261.36,321.97 L262.25,322.10 L263.15,321.97 L264.05,321.59 L264.95,320.95 L265.85,320.05 L266.75,318.91 L267.65,317.51 L268.55,315.86 L269.45,313.98 L270.35,311.85 L271.25,309.48 L272.14,306.89 L273.04,304.07 L273.94,301.02 L274.84,297.77 L275.74,294.31 L276.64,290.64 L277.54,286.78 L278.44,282.74 L279.34,278.52 L280.24,274.13 L281.13,269.58 L282.03,264.88 L282.93,260.04 L283.83,255.07 L284.73,249.98 L285.63,244.77 L286.53,239.47 L287.43,234.07 L288.33,228.59 L289.23,223.05 L290.12,217.45 L291.02,211.80 L291.92,206.12 L292.82,200.42 L293.72,194.70 L294.62,188.98 L295.52,183.28 L296.42,177.60 L297.32,171.95 L298.21,166.35 L299.11,160.81 L300.01,155.33 L300.91,149.93 L301.81,144.63 L302.71,139.42 L303.61,134.33 L304.51,129.36 L305.41,124.52 L306.31,119.82 L307.20,115.27 L308.10,110.88 L309.00,106.66 L309.90,102.62 L310.80,98.76 L311.70,95.09 L312.60,91.63 L313.50,88.38 L314.40,85.33 L315.30,82.51 L316.19,79.92 L317.09,77.55 L317.99,75.42 L318.89,73.54 L319.79,71.89 L320.69,70.49 L321.59,69.35 L322.49,68.45 L323.39,67.81 L324.29,67.43 L325.19,67.30 L326.08,67.43 L326.98,67.81 L327.88,68.45 L328.78,69.35 L329.68,70.49 L330.58,71.89 L331.48,73.54 L332.38,75.42 L333.28,77.55 L334.17,79.92 L335.07,82.51 L335.97,85.33 L336.87,88.38 L337.77,91.63 L338.67,95.09 L339.57,98.76 L340.47,102.62 L341.37,106.66 L342.27,110.88 L343.16,115.27 L344.06,119.82 L344.96,124.52 L345.86,129.36 L346.76,134.33 L347.66,139.42 L348.56,144.63 L349.46,149.93 L350.36,155.33 L351.26,160.81 L352.15,166.35 L353.05,171.95 L353.95,177.60 L354.85,183.28 L355.75,188.98 L356.65,194.70 L357.55,200.42 L358.45,206.12 L359.35,211.80 L360.25,217.45 L361.14,223.05 L362.04,228.59 L362.94,234.07 L363.84,239.47 L364.74,244.77 L365.64,249.98 L366.54,255.07 L367.44,260.04 L368.34,264.88 L369.24,269.58 L370.13,274.13 L371.03,278.52 L371.93,282.74 L372.83,286.78 L373.73,290.64 L374.63,294.31 L375.53,297.77 L376.43,301.02 L377.33,304.07 L378.23,306.89 L379.12,309.48 L380.02,311.85 L380.92,313.98 L381.82,315.86 L382.72,317.51 L383.62,318.91 L384.52,320.05 L385.42,320.95 L386.32,321.59 L387.22,321.97 L388.11,322.10 L389.01,321.97 L389.91,321.59 L390.81,320.95 L391.71,320.05 L392.61,318.91 L393.51,317.51 L394.41,315.86 L395.31,313.98 L396.21,311.85 L397.10,309.48 L398.00,306.89 L398.90,304.07 L399.80,301.02 L400.70,297.77 L401.60,294.31 L402.50,290.64 L403.40,286.78 L404.30,282.74 L405.20,278.52 L406.09,274.13 L406.99,269.58 L407.89,264.88 L408.79,260.04 L409.69,255.07 L410.59,249.98 L411.49,244.77 L412.39,239.47 L413.29,234.07 L414.19,228.59 L415.08,223.05 L415.98,217.45 L416.88,211.80 L417.78,206.12 L418.68,200.42 L419.58,194.70 L420.48,188.98 L421.38,183.28 L422.28,177.60 L423.18,171.95 L424.07,166.35 L424.97,160.81 L425.87,155.33 L426.77,149.93 L427.67,144.63 L428.57,139.42 L429.47,134.33 L430.37,129.36 L431.27,124.52 L432.17,119.82 L433.06,115.27 L433.96,110.88 L434.86,106.66 L435.76,102.62 L436.66,98.76 L437.56,95.09 L438.46,91.63 L439.36,88.38 L440.26,85.33 L441.16,82.51 L442.06,79.92 L442.95,77.55 L443.85,75.42 L444.75,73.54 L445.65,71.89 L446.55,70.49 L447.45,69.35 L448.35,68.45 L449.25,67.81 L450.15,67.43 L451.05,67.30 L451.94,67.43 L452.84,67.81 L453.74,68.45 L454.64,69.35 L455.54,70.49 L456.44,71.89 L457.34,73.54 L458.24,75.42 L459.14,77.55 L460.04,79.92 L460.93,82.51 L461.83,85.33 L462.73,88.38 L463.63,91.63 L464.53,95.09 L465.43,98.76 L466.33,102.62 L467.23,106.66 L468.13,110.88 L469.02,115.27 L469.92,119.82 L470.82,124.52 L471.72,129.36 L472.62,134.33 L473.52,139.42 L474.42,144.63 L475.32,149.93 L476.22,155.33 L477.12,160.81 L478.01,166.35 L478.91,171.95 L479.81,177.60 L480.71,183.28 L481.61,188.98 L482.51,194.70 L483.41,200.42 L484.31,206.12 L485.21,211.80 L486.11,217.45 L487.00,223.05 L487.90,228.59 L488.80,234.07 L489.70,239.47 L490.60,244.77 L491.50,249.98 L492.40,255.07 L493.30,260.04 L494.20,264.88 L495.10,269.58 L496.00,274.13 L496.89,278.52 L497.79,282.74 L498.69,286.78 L499.59,290.64 L500.49,294.31 L501.39,297.77 L502.29,301.02 L503.19,304.07 L504.09,306.89 L504.99,309.48 L505.88,311.85 L506.78,313.98 L507.68,315.86 L508.58,317.51 L509.48,318.91 L510.38,320.05 L511.28,320.95 L512.18,321.59 L513.08,321.97 L513.98,322.10 L514.87,321.97 L515.77,321.59 L516.67,320.95 L517.57,320.05 L518.47,318.91 L519.37,317.51 L520.27,315.86 L521.17,313.98 L522.07,311.85 L522.96,309.48 L523.86,306.89 L524.76,304.07 L525.66,301.02 L526.56,297.77 L527.46,294.31 L528.36,290.64 L529.26,286.78 L530.16,282.74 L531.06,278.52 L531.95,274.13 L532.85,269.58 L533.75,264.88 L534.65,260.04 L535.55,255.07 L536.45,249.98 L537.35,244.77 L538.25,239.47 L539.15,234.07 L540.05,228.59 L540.94,223.05 L541.84,217.45 L542.74,211.80 L543.64,206.12 L544.54,200.42 L545.44,194.70 L546.34,188.98 L547.24,183.28 L548.14,177.60 L549.04,171.95 L549.93,166.35 L550.83,160.81 L551.73,155.33 L552.63,149.93 L553.53,144.63 L554.43,139.42 L555.33,134.33 L556.23,129.36 L557.13,124.52 L558.03,119.82 L558.92,115.27 L559.82,110.88 L560.72,106.66 L561.62,102.62 L562.52,98.76 L563.42,95.09 L564.32,91.63 L565.22,88.38 L566.12,85.33 L567.02,82.51 L567.91,79.92 L568.81,77.55 L569.71,75.42 L570.61,73.54 L571.51,71.89 L572.41,70.49 L573.31,69.35 L574.21,68.45 L575.11,67.81 L576.01,67.43 L576.90,67.30 L577.80,67.43 L578.70,67.81 L579.60,68.45 L580.50,69.35 L581.40,70.49 L582.30,71.89 L583.20,73.54 L584.10,75.42 L585.00,77.55 L585.89,79.92 L586.79,82.51 L587.69,85.33 L588.59,88.38 L589.49,91.63 L590.39,95.09 L591.29,98.76 L592.19,102.62 L593.09,106.66 L593.99,110.88 L594.88,115.27 L595.78,119.82 L596.68,124.52 L597.58,129.36 L598.48,134.33 L599.38,139.42 L600.28,144.63 L601.18,149.93 L602.08,155.33 L602.98,160.81 L603.88,166.35 L604.77,171.95 L605.67,177.60 L606.57,183.28 L607.47,188.98 L608.37,194.70 L609.27,200.42 L610.17,206.12 L611.07,211.80 L611.97,217.45 L612.87,223.05 L613.76,228.59 L614.66,234.07 L615.56,239.47 L616.46,244.77 L617.36,249.98 L618.26,255.07 L619.16,260.04 L620.06,264.88 L620.96,269.58 L621.85,274.13 L622.75,278.52 L623.65,282.74 L624.55,286.78 L625.45,290.64 L626.35,294.31 L627.25,297.77 L628.15,301.02 L629.05,304.07 L629.95,306.89 L630.84,309.48 L631.74,311.85 L632.64,313.98 L633.54,315.86 L634.44,317.51 L635.34,318.91 L636.24,320.05 L637.14,320.95 L638.04,321.59 L638.94,321.97 L639.83,322.10 L640.73,321.97 L641.63,321.59 L642.53,320.95 L643.43,320.05 L644.33,318.91 L645.23,317.51 L646.13,315.86 L647.03,313.98 L647.93,311.85 L648.82,309.48 L649.72,306.89 L650.62,304.07 L651.52,301.02 L652.42,297.77 L653.32,294.31 L654.22,290.64 L655.12,286.78 L656.02,282.74 L656.92,278.52 L657.81,274.13 L658.71,269.58 L659.61,264.88 L660.51,260.04 L661.41,255.07 L662.31,249.98 L663.21,244.77 L664.11,239.47 L665.01,234.07 L665.91,228.59 L666.80,223.05 L667.70,217.45 L668.60,211.80 L669.50,206.12 L670.40,200.42 L671.30,194.70" fill="none" stroke="#6c0c5c" stroke-width="2.9" stroke-linejoin="round"/>
<line x1="68.3" y1="175.3" x2="68.3" y2="386.4" stroke="#6c0c5c" stroke-width="2.1" stroke-dasharray="17.4 3.9"/>
<line x1="96.5" y1="238.5" x2="96.5" y2="386.4" stroke="#6c0c5c" stroke-width="2.1" stroke-dasharray="17.4 3.9"/>
<line x1="126.6" y1="69.4" x2="126.6" y2="386.4" stroke="#6c0c5c" stroke-width="2.1" stroke-dasharray="17.4 3.9"/>
<line x1="153.1" y1="198.4" x2="153.1" y2="386.4" stroke="#6c0c5c" stroke-width="2.1" stroke-dasharray="17.4 3.9"/>
<line x1="178.8" y1="303.2" x2="178.8" y2="386.4" stroke="#6c0c5c" stroke-width="2.1" stroke-dasharray="17.4 3.9"/>
<line x1="206.9" y1="239.8" x2="206.9" y2="386.4" stroke="#6c0c5c" stroke-width="2.1" stroke-dasharray="17.4 3.9"/>
<line x1="240.2" y1="70.4" x2="240.2" y2="386.4" stroke="#6c0c5c" stroke-width="2.1" stroke-dasharray="17.4 3.9"/>
<line x1="268.1" y1="133.1" x2="268.1" y2="386.4" stroke="#6c0c5c" stroke-width="2.1" stroke-dasharray="17.4 3.9"/>
<line x1="293.6" y1="345.1" x2="293.6" y2="386.4" stroke="#6c0c5c" stroke-width="2.1" stroke-dasharray="17.4 3.9"/>
<line x1="321.9" y1="325.0" x2="321.9" y2="386.4" stroke="#6c0c5c" stroke-width="2.1" stroke-dasharray="17.4 3.9"/>
<line x1="349.6" y1="155.0" x2="349.6" y2="386.4" stroke="#6c0c5c" stroke-width="2.1" stroke-dasharray="17.4 3.9"/>
<line x1="379.1" y1="69.7" x2="379.1" y2="386.4" stroke="#6c0c5c" stroke-width="2.1" stroke-dasharray="17.4 3.9"/>
<line x1="410.0" y1="218.8" x2="410.0" y2="386.4" stroke="#6c0c5c" stroke-width="2.1" stroke-dasharray="17.4 3.9"/>
<line x1="437.7" y1="326.7" x2="437.7" y2="386.4" stroke="#6c0c5c" stroke-width="2.1" stroke-dasharray="17.4 3.9"/>
<line x1="468.1" y1="194.8" x2="468.1" y2="386.4" stroke="#6c0c5c" stroke-width="2.1" stroke-dasharray="17.4 3.9"/>
<line x1="498.0" y1="25.3" x2="498.0" y2="386.4" stroke="#6c0c5c" stroke-width="2.1" stroke-dasharray="17.4 3.9"/>
<line x1="523.8" y1="133.6" x2="523.8" y2="386.4" stroke="#6c0c5c" stroke-width="2.1" stroke-dasharray="17.4 3.9"/>
<line x1="555.5" y1="283.2" x2="555.5" y2="386.4" stroke="#6c0c5c" stroke-width="2.1" stroke-dasharray="17.4 3.9"/>
<line x1="582.4" y1="260.2" x2="582.4" y2="386.4" stroke="#6c0c5c" stroke-width="2.1" stroke-dasharray="17.4 3.9"/>
<line x1="611.2" y1="89.3" x2="611.2" y2="386.4" stroke="#6c0c5c" stroke-width="2.1" stroke-dasharray="17.4 3.9"/>
<line x1="635.6" y1="89.3" x2="635.6" y2="386.4" stroke="#6c0c5c" stroke-width="2.1" stroke-dasharray="17.4 3.9"/>
<line x1="611.2" y1="84.0" x2="611.2" y2="89.8" stroke="#6c0c5c" stroke-width="2.1"/>
<line x1="635.6" y1="84.0" x2="635.6" y2="89.8" stroke="#6c0c5c" stroke-width="2.1"/>
</g></g>
<g clip-path="url(#plot)"><g clip-path="url(#nolegend)">
<path d="M44.17,192.58 C44.81,191.87 46.67,189.53 48.00,188.30 C49.33,187.07 51.45,185.73 52.14,185.22" fill="none" stroke="#e3146f" stroke-width="3.2" stroke-linecap="round" stroke-linejoin="round"/>
<path d="M60.30,168.97 C60.58,168.37 61.30,166.39 62.00,165.40 C62.70,164.41 63.67,163.20 64.50,163.00 C65.33,162.80 66.38,163.67 67.00,164.20 C67.62,164.73 68.03,165.87 68.23,166.20" fill="none" stroke="#e3146f" stroke-width="3.2" stroke-linecap="round" stroke-linejoin="round"/>
<path d="M76.03,183.29 L78.37,195.91" fill="none" stroke="#e3146f" stroke-width="3.2" stroke-linecap="round" stroke-linejoin="round"/>
<path d="M79.71,214.19 L81.59,226.51" fill="none" stroke="#e3146f" stroke-width="3.2" stroke-linecap="round" stroke-linejoin="round"/>
<path d="M83.55,244.88 C83.75,245.87 84.29,249.31 84.80,250.80 C85.31,252.29 86.03,253.47 86.60,253.80 C87.17,254.13 87.94,252.95 88.21,252.78" fill="none" stroke="#e3146f" stroke-width="3.2" stroke-linecap="round" stroke-linejoin="round"/>
<path d="M90.44,233.81 L92.86,222.29" fill="none" stroke="#e3146f" stroke-width="3.2" stroke-linecap="round" stroke-linejoin="round"/>
<path d="M93.23,203.30 L93.77,190.70" fill="none" stroke="#e3146f" stroke-width="3.2" stroke-linecap="round" stroke-linejoin="round"/>
<path d="M95.67,171.30 L97.03,158.20" fill="none" stroke="#e3146f" stroke-width="3.2" stroke-linecap="round" stroke-linejoin="round"/>
<path d="M97.73,141.21 L100.17,128.09" fill="none" stroke="#e3146f" stroke-width="3.2" stroke-linecap="round" stroke-linejoin="round"/>
<path d="M102.08,109.92 L105.62,96.78" fill="none" stroke="#e3146f" stroke-width="3.2" stroke-linecap="round" stroke-linejoin="round"/>
<path d="M109.19,79.33 L112.61,66.97" fill="none" stroke="#e3146f" stroke-width="3.2" stroke-linecap="round" stroke-linejoin="round"/>
<path d="M122.99,71.81 C123.26,71.54 123.93,70.60 124.60,70.20 C125.27,69.80 126.17,69.33 127.00,69.40 C127.83,69.47 128.65,69.44 129.60,70.60 C130.55,71.76 132.16,75.42 132.67,76.38" fill="none" stroke="#e3146f" stroke-width="3.2" stroke-linecap="round" stroke-linejoin="round"/>
<path d="M135.72,95.19 L137.98,108.21" fill="none" stroke="#e3146f" stroke-width="3.2" stroke-linecap="round" stroke-linejoin="round"/>
<path d="M139.53,125.69 L142.07,138.81" fill="none" stroke="#e3146f" stroke-width="3.2" stroke-linecap="round" stroke-linejoin="round"/>
<path d="M143.90,156.29 L145.80,169.91" fill="none" stroke="#e3146f" stroke-width="3.2" stroke-linecap="round" stroke-linejoin="round"/>
<path d="M149.38,188.18 L152.62,200.32" fill="none" stroke="#e3146f" stroke-width="3.2" stroke-linecap="round" stroke-linejoin="round"/>
<path d="M155.70,215.67 L160.10,230.73" fill="none" stroke="#e3146f" stroke-width="3.2" stroke-linecap="round" stroke-linejoin="round"/>
<path d="M163.14,248.99 L165.76,262.11" fill="none" stroke="#e3146f" stroke-width="3.2" stroke-linecap="round" stroke-linejoin="round"/>
<path d="M170.54,276.95 C171.12,277.42 172.80,277.68 174.00,279.80 C175.20,281.92 177.13,288.00 177.75,289.65" fill="none" stroke="#e3146f" stroke-width="3.2" stroke-linecap="round" stroke-linejoin="round"/>
<path d="M181.16,304.48 L184.54,318.62" fill="none" stroke="#e3146f" stroke-width="3.2" stroke-linecap="round" stroke-linejoin="round"/>
<path d="M189.13,337.59 L191.37,349.41" fill="none" stroke="#e3146f" stroke-width="3.2" stroke-linecap="round" stroke-linejoin="round"/>
<path d="M196.86,365.52 L199.94,352.48" fill="none" stroke="#e3146f" stroke-width="3.2" stroke-linecap="round" stroke-linejoin="round"/>
<path d="M201.32,334.31 L203.58,320.99" fill="none" stroke="#e3146f" stroke-width="3.2" stroke-linecap="round" stroke-linejoin="round"/>
<path d="M204.19,302.01 L205.71,289.99" fill="none" stroke="#e3146f" stroke-width="3.2" stroke-linecap="round" stroke-linejoin="round"/>
<path d="M206.29,271.01 L207.71,259.49" fill="none" stroke="#e3146f" stroke-width="3.2" stroke-linecap="round" stroke-linejoin="round"/>
<path d="M210.87,240.42 L214.03,228.08" fill="none" stroke="#e3146f" stroke-width="3.2" stroke-linecap="round" stroke-linejoin="round"/>
<path d="M217.85,210.22 L220.75,197.38" fill="none" stroke="#e3146f" stroke-width="3.2" stroke-linecap="round" stroke-linejoin="round"/>
<path d="M223.42,179.11 L225.68,166.49" fill="none" stroke="#e3146f" stroke-width="3.2" stroke-linecap="round" stroke-linejoin="round"/>
<path d="M227.09,150.31 L228.91,135.49" fill="none" stroke="#e3146f" stroke-width="3.2" stroke-linecap="round" stroke-linejoin="round"/>
<path d="M230.44,116.31 L232.86,103.99" fill="none" stroke="#e3146f" stroke-width="3.2" stroke-linecap="round" stroke-linejoin="round"/>
<path d="M234.29,86.01 L236.01,72.89" fill="none" stroke="#e3146f" stroke-width="3.2" stroke-linecap="round" stroke-linejoin="round"/>
<path d="M238.97,55.48 C239.15,55.26 239.64,53.83 240.10,54.20 C240.56,54.57 241.11,55.88 241.70,57.70 C242.29,59.52 243.30,63.89 243.62,65.12" fill="none" stroke="#e3146f" stroke-width="3.2" stroke-linecap="round" stroke-linejoin="round"/>
<path d="M245.94,83.38 L248.56,95.72" fill="none" stroke="#e3146f" stroke-width="3.2" stroke-linecap="round" stroke-linejoin="round"/>
<path d="M257.83,103.12 L264.07,114.78" fill="none" stroke="#e3146f" stroke-width="3.2" stroke-linecap="round" stroke-linejoin="round"/>
<path d="M269.46,132.95 L274.64,146.15" fill="none" stroke="#e3146f" stroke-width="3.2" stroke-linecap="round" stroke-linejoin="round"/>
<path d="M276.24,163.89 L278.86,176.71" fill="none" stroke="#e3146f" stroke-width="3.2" stroke-linecap="round" stroke-linejoin="round"/>
<path d="M282.49,194.44 C282.91,195.36 284.09,197.85 285.00,200.00 C285.91,202.15 287.45,206.13 287.94,207.35" fill="none" stroke="#e3146f" stroke-width="3.2" stroke-linecap="round" stroke-linejoin="round"/>
<path d="M289.99,226.09 L291.61,238.61" fill="none" stroke="#e3146f" stroke-width="3.2" stroke-linecap="round" stroke-linejoin="round"/>
<path d="M293.39,256.89 L294.91,269.21" fill="none" stroke="#e3146f" stroke-width="3.2" stroke-linecap="round" stroke-linejoin="round"/>
<path d="M295.40,287.89 L297.30,301.01" fill="none" stroke="#e3146f" stroke-width="3.2" stroke-linecap="round" stroke-linejoin="round"/>
<path d="M298.64,319.30 L299.46,332.70" fill="none" stroke="#e3146f" stroke-width="3.2" stroke-linecap="round" stroke-linejoin="round"/>
<path d="M301.19,349.99 C301.36,351.31 301.54,356.17 302.20,357.90 C302.86,359.63 304.67,359.94 305.16,360.35" fill="none" stroke="#e3146f" stroke-width="3.2" stroke-linecap="round" stroke-linejoin="round"/>
<path d="M311.89,345.41 C312.50,344.80 314.28,343.73 315.50,341.80 C316.72,339.87 318.59,335.16 319.20,333.83" fill="none" stroke="#e3146f" stroke-width="3.2" stroke-linecap="round" stroke-linejoin="round"/>
<path d="M323.66,315.52 L326.54,303.18" fill="none" stroke="#e3146f" stroke-width="3.2" stroke-linecap="round" stroke-linejoin="round"/>
<path d="M329.38,284.50 L330.82,271.40" fill="none" stroke="#e3146f" stroke-width="3.2" stroke-linecap="round" stroke-linejoin="round"/>
<path d="M332.10,253.11 L334.00,239.99" fill="none" stroke="#e3146f" stroke-width="3.2" stroke-linecap="round" stroke-linejoin="round"/>
<path d="M337.79,224.02 C338.19,223.41 339.27,222.61 340.20,220.40 C341.13,218.19 342.85,212.37 343.38,210.76" fill="none" stroke="#e3146f" stroke-width="3.2" stroke-linecap="round" stroke-linejoin="round"/>
<path d="M346.08,192.10 L347.42,179.70" fill="none" stroke="#e3146f" stroke-width="3.2" stroke-linecap="round" stroke-linejoin="round"/>
<path d="M350.92,164.80 L351.48,149.00" fill="none" stroke="#e3146f" stroke-width="3.2" stroke-linecap="round" stroke-linejoin="round"/>
<path d="M355.62,131.04 C355.83,130.75 356.22,129.36 356.90,129.30 C357.58,129.24 358.78,130.93 359.70,130.70 C360.62,130.47 361.75,128.94 362.40,127.90 C363.05,126.86 363.38,125.04 363.57,124.46" fill="none" stroke="#e3146f" stroke-width="3.2" stroke-linecap="round" stroke-linejoin="round"/>
<path d="M366.00,106.51 L367.80,93.49" fill="none" stroke="#e3146f" stroke-width="3.2" stroke-linecap="round" stroke-linejoin="round"/>
<path d="M369.86,74.30 L370.94,62.10" fill="none" stroke="#e3146f" stroke-width="3.2" stroke-linecap="round" stroke-linejoin="round"/>
<path d="M374.99,44.11 C375.15,44.09 375.50,43.47 375.90,44.00 C376.30,44.53 376.70,45.39 377.40,47.30 C378.10,49.21 379.63,54.08 380.08,55.44" fill="none" stroke="#e3146f" stroke-width="3.2" stroke-linecap="round" stroke-linejoin="round"/>
<path d="M386.01,68.37 L391.59,57.03" fill="none" stroke="#e3146f" stroke-width="3.2" stroke-linecap="round" stroke-linejoin="round"/>
<path d="M397.20,73.29 L399.00,85.91" fill="none" stroke="#e3146f" stroke-width="3.2" stroke-linecap="round" stroke-linejoin="round"/>
<path d="M401.07,103.80 L402.43,116.70" fill="none" stroke="#e3146f" stroke-width="3.2" stroke-linecap="round" stroke-linejoin="round"/>
<path d="M403.70,135.49 L405.60,148.61" fill="none" stroke="#e3146f" stroke-width="3.2" stroke-linecap="round" stroke-linejoin="round"/>
<path d="M406.77,166.60 L408.13,179.70" fill="none" stroke="#e3146f" stroke-width="3.2" stroke-linecap="round" stroke-linejoin="round"/>
<path d="M409.56,197.50 L410.64,210.80" fill="none" stroke="#e3146f" stroke-width="3.2" stroke-linecap="round" stroke-linejoin="round"/>
<path d="M412.51,229.69 L414.39,242.11" fill="none" stroke="#e3146f" stroke-width="3.2" stroke-linecap="round" stroke-linejoin="round"/>
<path d="M416.78,260.68 L420.02,272.62" fill="none" stroke="#e3146f" stroke-width="3.2" stroke-linecap="round" stroke-linejoin="round"/>
<path d="M427.69,287.69 C428.08,288.08 428.97,287.89 430.00,290.00 C431.03,292.11 433.21,298.62 433.86,300.34" fill="none" stroke="#e3146f" stroke-width="3.2" stroke-linecap="round" stroke-linejoin="round"/>
<path d="M437.00,318.17 L440.50,329.63" fill="none" stroke="#e3146f" stroke-width="3.2" stroke-linecap="round" stroke-linejoin="round"/>
<path d="M453.41,325.31 L455.49,312.49" fill="none" stroke="#e3146f" stroke-width="3.2" stroke-linecap="round" stroke-linejoin="round"/>
<path d="M457.28,294.80 L458.92,281.00" fill="none" stroke="#e3146f" stroke-width="3.2" stroke-linecap="round" stroke-linejoin="round"/>
<path d="M460.68,262.90 L462.12,250.60" fill="none" stroke="#e3146f" stroke-width="3.2" stroke-linecap="round" stroke-linejoin="round"/>
<path d="M463.90,231.51 L465.70,219.19" fill="none" stroke="#e3146f" stroke-width="3.2" stroke-linecap="round" stroke-linejoin="round"/>
<path d="M466.20,200.31 L468.00,187.69" fill="none" stroke="#e3146f" stroke-width="3.2" stroke-linecap="round" stroke-linejoin="round"/>
<path d="M470.85,168.62 L473.55,156.48" fill="none" stroke="#e3146f" stroke-width="3.2" stroke-linecap="round" stroke-linejoin="round"/>
<path d="M479.09,138.73 L482.41,126.67" fill="none" stroke="#e3146f" stroke-width="3.2" stroke-linecap="round" stroke-linejoin="round"/>
<path d="M484.28,107.90 L485.82,94.00" fill="none" stroke="#e3146f" stroke-width="3.2" stroke-linecap="round" stroke-linejoin="round"/>
<path d="M487.80,78.41 L489.70,64.49" fill="none" stroke="#e3146f" stroke-width="3.2" stroke-linecap="round" stroke-linejoin="round"/>
<path d="M491.31,45.71 L493.19,33.59" fill="none" stroke="#e3146f" stroke-width="3.2" stroke-linecap="round" stroke-linejoin="round"/>
<path d="M498.17,20.15 C498.56,21.07 499.96,23.51 500.50,25.70 C501.04,27.89 501.26,32.04 501.42,33.31" fill="none" stroke="#e3146f" stroke-width="3.2" stroke-linecap="round" stroke-linejoin="round"/>
<path d="M509.74,87.09 L511.46,95.41" fill="none" stroke="#e3146f" stroke-width="3.2" stroke-linecap="round" stroke-linejoin="round"/>
<path d="M514.01,112.83 L520.29,125.27" fill="none" stroke="#e3146f" stroke-width="3.2" stroke-linecap="round" stroke-linejoin="round"/>
<path d="M523.78,141.18 L527.52,155.12" fill="none" stroke="#e3146f" stroke-width="3.2" stroke-linecap="round" stroke-linejoin="round"/>
<path d="M530.41,173.19 L532.59,186.31" fill="none" stroke="#e3146f" stroke-width="3.2" stroke-linecap="round" stroke-linejoin="round"/>
<path d="M534.42,204.59 L536.58,216.91" fill="none" stroke="#e3146f" stroke-width="3.2" stroke-linecap="round" stroke-linejoin="round"/>
<path d="M538.34,234.89 L540.96,247.91" fill="none" stroke="#e3146f" stroke-width="3.2" stroke-linecap="round" stroke-linejoin="round"/>
<path d="M543.58,266.48 L546.82,278.92" fill="none" stroke="#e3146f" stroke-width="3.2" stroke-linecap="round" stroke-linejoin="round"/>
<path d="M559.83,287.85 C560.09,288.20 560.79,288.86 561.40,289.90 C562.01,290.94 562.63,292.80 563.50,294.10 C564.37,295.40 565.85,297.10 566.60,297.70 C567.35,298.30 567.77,297.70 568.00,297.70" fill="none" stroke="#e3146f" stroke-width="3.2" stroke-linecap="round" stroke-linejoin="round"/>
<path d="M577.69,281.53 C577.91,280.77 578.08,279.15 579.00,277.00 C579.92,274.85 582.49,270.02 583.19,268.63" fill="none" stroke="#e3146f" stroke-width="3.2" stroke-linecap="round" stroke-linejoin="round"/>
<path d="M586.43,249.61 L588.67,237.89" fill="none" stroke="#e3146f" stroke-width="3.2" stroke-linecap="round" stroke-linejoin="round"/>
<path d="M590.80,219.01 L592.40,207.49" fill="none" stroke="#e3146f" stroke-width="3.2" stroke-linecap="round" stroke-linejoin="round"/>
<path d="M594.45,187.72 L596.95,176.18" fill="none" stroke="#e3146f" stroke-width="3.2" stroke-linecap="round" stroke-linejoin="round"/>
<path d="M602.68,157.82 L606.02,145.38" fill="none" stroke="#e3146f" stroke-width="3.2" stroke-linecap="round" stroke-linejoin="round"/>
<path d="M607.21,126.51 L609.19,114.09" fill="none" stroke="#e3146f" stroke-width="3.2" stroke-linecap="round" stroke-linejoin="round"/>
<path d="M612.25,93.80 L612.75,86.70" fill="none" stroke="#e3146f" stroke-width="3.2" stroke-linecap="round" stroke-linejoin="round"/>
<path d="M636.46,86.68 L639.34,98.92" fill="none" stroke="#e3146f" stroke-width="3.2" stroke-linecap="round" stroke-linejoin="round"/>
<path d="M641.35,115.98 L644.15,128.82" fill="none" stroke="#e3146f" stroke-width="3.2" stroke-linecap="round" stroke-linejoin="round"/>
<path d="M651.54,148.09 L654.06,160.41" fill="none" stroke="#e3146f" stroke-width="3.2" stroke-linecap="round" stroke-linejoin="round"/>
<path d="M655.76,177.88 L658.74,190.72" fill="none" stroke="#e3146f" stroke-width="3.2" stroke-linecap="round" stroke-linejoin="round"/>
<path d="M661.19,208.57 L664.91,221.73" fill="none" stroke="#e3146f" stroke-width="3.2" stroke-linecap="round" stroke-linejoin="round"/>
<path d="M667.66,239.60 L668.74,252.60" fill="none" stroke="#e3146f" stroke-width="3.2" stroke-linecap="round" stroke-linejoin="round"/>
</g></g>
<g stroke="#6c0c5c" fill="none">
<rect x="42.0" y="3.6" width="629.3" height="381.8" stroke-width="2.9"/>
<line x1="42.0" y1="67.0" x2="58.0" y2="67.0" stroke-width="2.8"/>
<line x1="42.0" y1="194.3" x2="58.0" y2="194.3" stroke-width="2.8"/>
<line x1="42.0" y1="322.2" x2="58.0" y2="322.2" stroke-width="2.8"/>
<line x1="167.9" y1="385.4" x2="167.9" y2="370.09999999999997" stroke-width="2.5"/>
<line x1="293.7" y1="385.4" x2="293.7" y2="370.09999999999997" stroke-width="2.5"/>
<line x1="419.6" y1="385.4" x2="419.6" y2="370.09999999999997" stroke-width="2.5"/>
<line x1="545.4" y1="385.4" x2="545.4" y2="370.09999999999997" stroke-width="2.5"/>
<rect x="502.6" y="5.6" width="163.7" height="79.7" stroke-width="1.6"/>
<line x1="506.4" y1="26.4" x2="576.6" y2="26.4" stroke-width="2.9"/>
</g>
</g>
<line clip-path="url(#vb0)" x1="68.3" y1="175.3" x2="68.3" y2="386.4" stroke="#000" stroke-width="2.1" stroke-dasharray="17.4 3.9"/>
<line clip-path="url(#vb3)" x1="153.1" y1="198.4" x2="153.1" y2="386.4" stroke="#000" stroke-width="2.1" stroke-dasharray="17.4 3.9"/>
<line clip-path="url(#vb4)" x1="178.8" y1="303.2" x2="178.8" y2="386.4" stroke="#000" stroke-width="2.1" stroke-dasharray="17.4 3.9"/>
<line clip-path="url(#vb5)" x1="206.9" y1="239.8" x2="206.9" y2="386.4" stroke="#000" stroke-width="2.1" stroke-dasharray="17.4 3.9"/>
<line clip-path="url(#vb14)" x1="468.1" y1="194.8" x2="468.1" y2="386.4" stroke="#000" stroke-width="2.1" stroke-dasharray="17.4 3.9"/>
<text x="41.2" y="410.2" text-anchor="middle" font-family="Liberation Serif" font-size="22.3" fill="#000" stroke="#000" stroke-width="0.25">0</text>
<text x="167.1" y="410.2" text-anchor="middle" font-family="Liberation Serif" font-size="22.3" fill="#000" stroke="#000" stroke-width="0.25">0.1</text>
<text x="292.9" y="410.2" text-anchor="middle" font-family="Liberation Serif" font-size="22.3" fill="#000" stroke="#000" stroke-width="0.25">0.2</text>
<text x="418.8" y="410.2" text-anchor="middle" font-family="Liberation Serif" font-size="22.3" fill="#000" stroke="#000" stroke-width="0.25">0.3</text>
<text x="544.6" y="410.2" text-anchor="middle" font-family="Liberation Serif" font-size="22.3" fill="#000" stroke="#000" stroke-width="0.25">0.4</text>
<text x="670.5" y="410.2" text-anchor="middle" font-family="Liberation Serif" font-size="22.3" fill="#000" stroke="#000" stroke-width="0.25">0.5</text>
<text x="356.0" y="434.0" text-anchor="middle" font-family="Liberation Serif" font-size="22.8" fill="#000" stroke="#000" stroke-width="0.3">time</text>
<text transform="translate(17.3,194.2) rotate(-90)" text-anchor="middle" font-family="Liberation Serif" font-size="22.5" fill="#000" stroke="#000" stroke-width="0.3">Amplitude</text>
</svg>
</body></html>
